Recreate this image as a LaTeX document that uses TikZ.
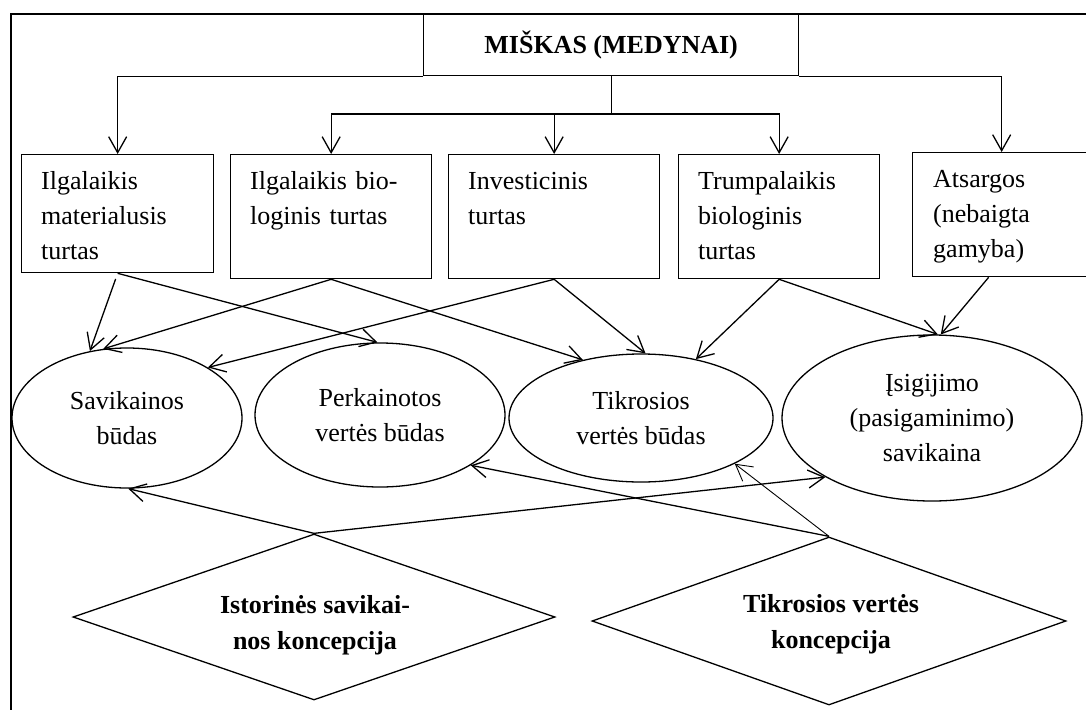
\documentclass[tikz,border=0pt]{standalone}
\usepackage{fontspec}
\setmainfont{Liberation Serif}
\usetikzlibrary{shapes.geometric,arrows.meta,calc}
\begin{document}
\begin{tikzpicture}[x=1pt,y=-1pt,
  lw/.style={line width=1.3pt},
  box/.style={draw,lw,rectangle,inner sep=0pt,anchor=north west},
  btxt/.style={anchor=base west,inner sep=0pt,text width=#1,align=left,font=\fontsize{26}{35}\selectfont},
  ell/.style={draw,lw,ellipse,inner sep=0pt,align=center,font=\fontsize{26}{35}\selectfont},
  dia/.style={draw,lw,diamond,inner sep=0pt,aspect=2.9},
  dtxt/.style={align=center,font=\bfseries\fontsize{26}{36}\selectfont,inner sep=0pt},
  arr/.style={lw,-{Straight Barb[length=16pt,width=18pt]}},
]
\clip (0,0) rectangle (1086,709);
\fill[white] (0,0) rectangle (1086,709);
\draw[line width=1.6pt] (11,14) rectangle (1100,720);

\node[box,minimum width=375pt,minimum height=61pt,font=\bfseries\fontsize{26}{30}\selectfont] (m) at (423,14) {MIŠKAS (MEDYNAI)};

\node[box,minimum width=192pt,minimum height=118pt] (b1) at (21,154) {};
\node[box,minimum width=201pt,minimum height=124pt] (b2) at (230,154) {};
\node[box,minimum width=211pt,minimum height=124pt] (b3) at (448,154) {};
\node[box,minimum width=201pt,minimum height=124pt] (b4) at (678,154) {};
\node[box,minimum width=178pt,minimum height=124pt] (b5) at (912,152) {};

\node[btxt=170pt] (t1) at (41,189) {Ilgalaikis\\materialusis\\turtas};
\node[btxt=180pt] (t2) at (250,189) {Ilgalaikis bio-\\loginis turtas};
\node[btxt=180pt] (t3) at (468,189) {Investicinis\\turtas};
\node[btxt=180pt] (t4) at (698,189) {Trumpalaikis\\biologinis\\turtas};
\node[btxt=150pt] (t5) at (933,187) {Atsargos\\(nebaigta\\gamyba)};

\node[ell,minimum width=230pt,minimum height=140pt] (e1) at (127,418) {Savikainos\\būdas};
\node[ell,minimum width=250pt,minimum height=144pt] (e2) at (380,415) {Perkainotos\\vertės būdas};
\node[ell,minimum width=264pt,minimum height=128pt] (e3) at (641,418) {Tikrosios\\vertės būdas};
\node[ell,minimum width=300pt,minimum height=166pt] (e4) at (932,418) {Įsigijimo\\(pasigaminimo)\\savikaina};

\node[dia,minimum width=482pt,minimum height=166pt] (d1) at (314,617) {};
\node[dia,minimum width=474pt,minimum height=168pt] (d2) at (829,621) {};
\node[dtxt] (dt1) at (315,625) {Istorinės savikai-\\nos koncepcija};
\node[dtxt] (dt2) at (831,624) {Tikrosios vertės\\koncepcija};

% top connectors
\draw[arr] (m.south west) -| (b1.north);
\draw[arr] (m.south east) -| (b5.north);
\coordinate (j) at (m.south |- 0,114);
\draw[lw] (m.south) -- (j);
\draw[arr] (j) -| (b2.north);
\draw[arr] (j) -| (b4.north);
\draw[arr] (j -| b3.north) -- (b3.north);

% boxes to ellipses
\draw[arr,shorten <=6pt] (b1.south) -- (e1.119);
\draw[arr] (b1.south) -- (e2.92);
\draw[arr] (b2.south) -- (e1.109);
\draw[arr] (b2.south) -- (e3.135);
\draw[arr] (b3.south) -- (e1.32);
\draw[arr] (b3.south) -- (e3.86);
\draw[arr] (b4.south) -- (e3.47);
\draw[arr] (b4.south) -- (e4.86);
\draw[arr] ([xshift=-13pt]b5.south) -- (e4.84);

% diamonds to ellipses
\draw[arr] (d1.north) -- (e1.271);
\draw[arr] (d1.north) -- (e4.209);
\draw[arr] (d2.north) -- (e2.331);
\draw[arr,line width=0.9pt] (d2.north) -- (e3.334);
\end{tikzpicture}
\end{document}
